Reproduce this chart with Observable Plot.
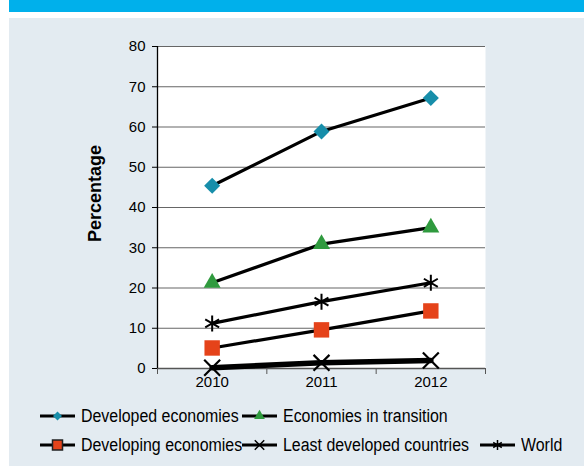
<!DOCTYPE html>
<html>
<head>
<meta charset="utf-8">
<script src="https://cdn.jsdelivr.net/npm/d3@7"></script>
<script src="https://cdn.jsdelivr.net/npm/@observablehq/plot@0.6"></script>
<style>
  html, body { margin:0; padding:0; background:#fff; width:584px; height:469px; overflow:hidden; }
  body { position:relative; font-family:"Liberation Sans",Arial,sans-serif; }
  #bar { position:absolute; left:9px; right:0; top:0; height:12px; background:#00B0EB; }
  #panel { position:absolute; left:9px; right:0; top:18px; bottom:3px; background:#E3EBF1; }
  #chart { position:absolute; left:0; top:0; }
  #legend { position:absolute; left:31px; top:386px; display:grid; grid-template-columns:202px 238px auto; row-gap:5px; font-size:18px; color:#000; }
  .item { display:flex; align-items:center; height:24px; white-space:nowrap; }
  .item svg { width:35px; height:20px; margin-right:6px; flex:none; }
  .item span { display:inline-block; transform:scaleX(0.885); transform-origin:left center; }
</style>
</head>
<body>
<div id="bar"></div>
<div id="panel">
  <div id="chart"></div>
  <div id="legend"></div>
</div>
<script>
const years = [2010, 2011, 2012];
const series = ["Developed economies", "Economies in transition", "Developing economies", "Least developed countries", "World"];
const developed  = [45.4, 58.9, 67.2];
const transition = [21.3, 30.9, 35.0];
const developing = [5.1, 9.6, 14.3];
const ldc        = [0.2, 1.4, 2.0];
const world      = [11.2, 16.6, 21.3];
const yTicks = [0, 10, 20, 30, 40, 50, 60, 70, 80];
const yLabel = "Percentage";

const values = [developed, transition, developing, ldc, world];
const rows = series.flatMap((s, i) => years.map((yr, j) => ({series: s, year: yr, value: values[i][j]})));
const bounds = [years[0] - 0.5, ...years.map(y => y + 0.5)];
const of = s => rows.filter(d => d.series === s);

const font = '"Liberation Sans",Arial,sans-serif';

const chart = Plot.plot({
  width: 575, height: 380,
  marginLeft: 148, marginRight: 99, marginTop: 28, marginBottom: 30,
  style: {background: "transparent", fontFamily: font, fontSize: "15px", color: "black"},
  x: {type: "linear", domain: [bounds[0], bounds[bounds.length - 1]]},
  y: {domain: [0, 80]},
  marks: [
    Plot.frame({fill: "white", stroke: "none"}),
    Plot.gridY(yTicks, {stroke: "#666", strokeOpacity: 1, strokeWidth: 1.2}),
    Plot.axisY(yTicks, {tickSize: 5, tickPadding: 7, label: null, fill: "black"}),
    Plot.text([yLabel], {frameAnchor: "left", textAnchor: "middle", dx: -62, dy: -14, rotate: -90, fontWeight: "bold", fontSize: 18, fill: "black"}),
    Plot.axisX(years, {tickSize: 0, tickPadding: 8, label: null, tickFormat: d => String(d), fill: "black"}),
    Plot.axisX(bounds, {tickSize: 6, tickFormat: () => "", label: null, stroke: "#555"}),
    Plot.ruleY([0], {stroke: "#555", strokeWidth: 1.5}),
    Plot.ruleX([bounds[0]], {stroke: "black", strokeWidth: 1.3}),
    Plot.line(rows.filter(d => d.series !== series[3]), {x: "year", y: "value", z: "series", stroke: "black", strokeWidth: 3.2}),
    Plot.line(of(series[3]), {x: "year", y: "value", stroke: "black", strokeWidth: 5.5}),
    Plot.dot(of(series[0]), {x: "year", y: "value", symbol: "square", r: 6.4, rotate: 45, fill: "#178EAA"}),
    Plot.dot(of(series[1]), {x: "year", y: "value", symbol: "triangle", r: 6.3, fill: "#2F9A3E"}),
    Plot.dot(of(series[2]), {x: "year", y: "value", symbol: "square", r: 8.7, fill: "#E5431A"}),
    Plot.dot(of(series[3]), {x: "year", y: "value", symbol: "times", r: 7.3, stroke: "black", strokeWidth: 2.2}),
    Plot.dot(of(series[4]), {x: "year", y: "value", symbol: "asterisk", r: 7.6, stroke: "black", strokeWidth: 2})
  ]
});
document.getElementById("chart").appendChild(chart);

// legend
const legendSpec = [
  {name: series[0], type: d3.symbolSquare, size: 40, rotate: 45, fill: "#178EAA"},
  {name: series[1], type: d3.symbolTriangle, size: 50, fill: "#2F9A3E"},
  {name: series[2], type: d3.symbolSquare, size: 100, fill: "#E5431A", stroke: "#222"},
  {name: series[3], type: d3.symbolTimes, size: 60, stroke: "black"},
  {name: series[4], type: d3.symbolAsterisk, size: 70, stroke: "black"}
];
const order = [0, 1, null, 2, 3, 4];
const legend = d3.select("#legend");
order.forEach(i => {
  const cell = legend.append("div").attr("class", "item");
  if (i === null) return;
  const s = legendSpec[i];
  const svg = cell.append("svg").attr("viewBox", "0 0 35 20");
  svg.append("line").attr("x1", 0).attr("x2", 35).attr("y1", 10).attr("y2", 10).attr("stroke", "black").attr("stroke-width", 3);
  svg.append("path").attr("d", d3.symbol(s.type, s.size)())
    .attr("transform", `translate(17.5,10) rotate(${s.rotate || 0})`)
    .attr("fill", s.fill || "none").attr("stroke", s.stroke || "none").attr("stroke-width", s.stroke ? 1.5 : 0);
  cell.append("span").text(s.name);
});
</script>
</body>
</html>
